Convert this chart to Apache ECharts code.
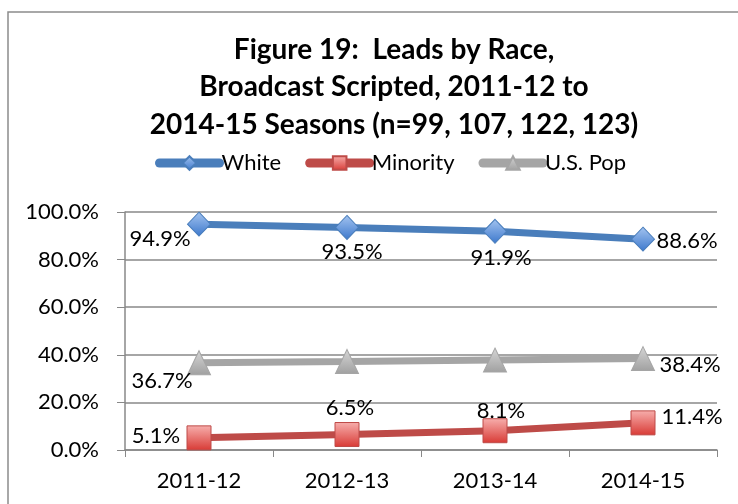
<!DOCTYPE html>
<html><head><meta charset="utf-8">
<script src="https://cdn.jsdelivr.net/npm/echarts@6/dist/echarts.min.js"></script>
<style>html,body{margin:0;padding:0;background:#fff}#c{width:738px;height:504px}</style>
</head><body><div id="c"></div>
<script>
const categories = ['2011-12','2012-13','2013-14','2014-15'];
const whiteVals = [94.9, 93.5, 91.9, 88.6];
const minorityVals = [5.1, 6.5, 8.1, 11.4];
const usPopVals = [36.7, 37.2, 37.8, 38.4];
const usPopShown = [true, false, false, true];

const FONT = 'Lato, "Open Sans", sans-serif';
function items(vals, offsets, shown) {
  return vals.map((v, i) => ({
    value: v,
    label: {show: shown ? shown[i] : true, position: 'inside', offset: offsets[i]}
  }));
}
const chart = echarts.init(document.getElementById('c'));
const lbl = {fontFamily: FONT, fontSize: 22, color: '#000', formatter: p => p.value.toFixed(1) + '%'};
chart.setOption({
  animation: false,
  title: {
    text: 'Figure 19:  Leads by Race,\nBroadcast Scripted, 2011-12 to\n2014-15 Seasons (n=99, 107, 122, 123)',
    left: 389, textAlign: 'center', top: 26,
    textStyle: {fontFamily: FONT, fontWeight: 'bold', fontSize: 28, lineHeight: 37.5, color: '#000'}
  },
  legend: {
    top: 147, left: 150, itemGap: 24, itemWidth: 60, itemHeight: 17,
    textStyle: {fontFamily: FONT, fontSize: 22, color: '#000', padding: [0, 0, 0, -3]},
    lineStyle: {width: 9, cap: 'round'},
    data: ['White', 'Minority', 'U.S. Pop']
  },
  grid: {left: 125, right: 21, top: 212, bottom: 54},
  xAxis: {
    type: 'category', data: categories, boundaryGap: true,
    axisLine: {lineStyle: {color: '#888', width: 1.5}},
    axisTick: {show: true, length: 7, lineStyle: {color: '#888'}},
    axisLabel: {fontFamily: FONT, fontSize: 22, color: '#000', margin: 20}
  },
  yAxis: {
    type: 'value', min: 0, max: 100, interval: 20,
    axisLine: {show: true, lineStyle: {color: '#888', width: 1.5}},
    axisTick: {show: true, length: 8, lineStyle: {color: '#888'}},
    splitLine: {lineStyle: {color: '#888', width: 1.5}},
    axisLabel: {fontFamily: FONT, fontSize: 22, color: '#000', margin: 26, formatter: v => v.toFixed(1) + '%'}
  },
  graphic: [{type: 'rect', shape: {x: 8, y: 12, width: 800, height: 600}, style: {fill: 'none', stroke: '#8c8c8c', lineWidth: 1.5}, z: -1}],
  series: [
    {
      name: 'White', type: 'line', data: items(whiteVals, [[-39, 15], [5, 24], [6, 27], [44, 2]]),
      symbol: 'diamond', symbolSize: [23, 24],
      lineStyle: {color: '#4A7EBB', width: 7},
      itemStyle: {color: new echarts.graphic.LinearGradient(0, 0, 0, 1, [{offset: 0, color: '#A4C4F0'}, {offset: 1, color: '#3C78CC'}]), borderColor: '#4A7EBB', borderWidth: 1},
      label: lbl, z: 3
    },
    {
      name: 'Minority', type: 'line', data: items(minorityVals, [[-43, -2], [3, -27], [6, -20], [49, -6]]),
      symbol: 'rect', symbolSize: 24,
      lineStyle: {color: '#BE4B48', width: 7},
      itemStyle: {color: new echarts.graphic.LinearGradient(0, 0, 0, 1, [{offset: 0, color: '#F7AFAD'}, {offset: 1, color: '#D83A35'}]), borderColor: '#BE4B48', borderWidth: 1},
      label: lbl, z: 3
    },
    {
      name: 'U.S. Pop', type: 'line', data: items(usPopVals, [[-37, 18], [0, 0], [0, 0], [47, 6]], usPopShown),
      symbol: 'triangle', symbolSize: [23, 24],
      lineStyle: {color: '#A5A5A5', width: 7},
      itemStyle: {color: new echarts.graphic.LinearGradient(0, 0, 0, 1, [{offset: 0, color: '#D6D6D6'}, {offset: 1, color: '#A0A0A0'}]), borderColor: '#A5A5A5', borderWidth: 1},
      label: lbl, z: 3
    }
  ]
});
</script></body></html>
